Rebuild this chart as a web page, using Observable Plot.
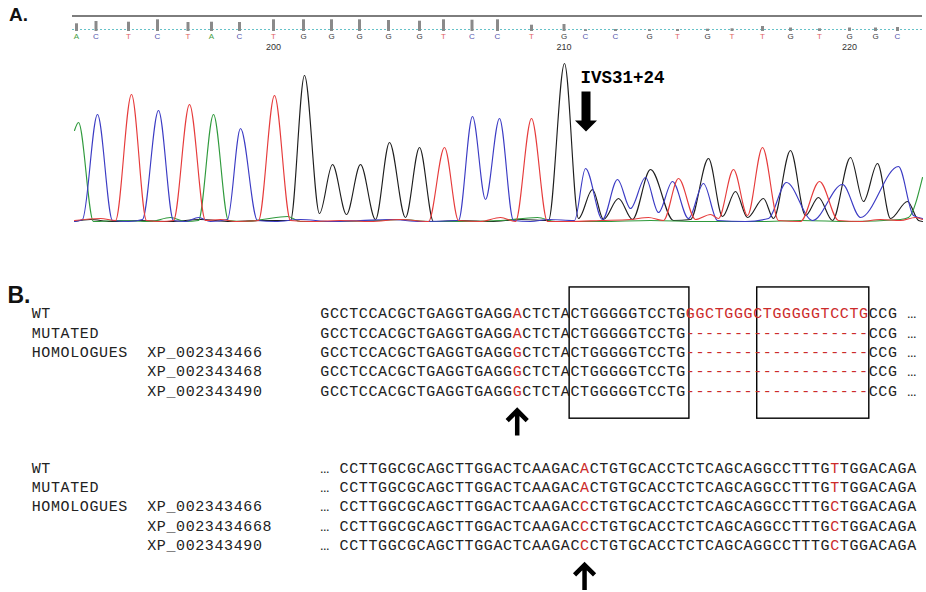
<!DOCTYPE html>
<html>
<head>
<meta charset="utf-8">
<script src="https://cdn.jsdelivr.net/npm/d3@7"></script>
<script src="https://cdn.jsdelivr.net/npm/@observablehq/plot@0.6"></script>
<style>
  html, body { margin: 0; padding: 0; background: #fff; overflow: hidden; }
  #fig { position: relative; width: 926px; height: 592px; background: #fff; overflow: hidden; }
  .panel-label { position: absolute; font-family: "Liberation Sans", Arial, sans-serif; font-weight: bold; color: #111; white-space: nowrap; }
</style>
</head>
<body>
<div id="fig"></div>
<script>
// ================= Panel A data =================
// base calls of the trace (letter, scan position, call quality)
const baseLetters = ["A","C","T","C","T","A","C","T","G","G","G","G","G","T","C","C","T","G","C","C","G","T","G","T","T","G","T","G","G","C"];
const baseScan    = [4,23.5,56,85,115.5,139,167,201,231,259,287,316,347,371,399.5,425,459,491.5,513,543,577,605,635,659.5,690,718,747,777,803,825];
const baseQuality = [7.7,10,9.3,11.7,9,9.3,9,11.7,11.7,11.7,11.7,11,10.3,11.7,11.3,11.7,6.3,7,1.7,2,1.7,2,2.3,2.7,5,3.5,2.7,3.5,3.5,4];
const positionLabels = ["200","210","220"];
const positionBaseIndex = [7,17,27];

// chromatogram traces: [scan, intensity] at troughs and apices
const traceA = [[2,92],[6,100],[21,1],[48,2],[78,1],[98,5],[113,1],[126,2],[141,108],[156,2],[173,1],[190,3],[215,6],[228,1],[258,1],[308,2],[328,3],[358,1],[388,1],[428,2],[465,5],[483,1],[528,1],[578,2],[628,1],[688,1],[728,2],[778,1],[828,3],[836,5],[850,45]];
const traceC = [[2,1],[10,3],[25,108],[40,2],[56,1],[70,3],[86,112],[101,2],[113,1],[126,5],[138,1],[155,3],[168,94],[185,2],[203,1],[228,3],[258,1],[288,2],[318,3],[348,1],[386,2],[400,106],[413,23],[427,104],[441,2],[458,1],[476,3],[502,2],[513,54],[530,3],[545,43],[558,14],[573,45],[586,10],[600,41],[616,4],[631,39],[645,2],[673,1],[696,4],[714,40],[740,2],[770,38],[788,5],[826,56],[841,7],[850,4]];
const traceG = [[2,1],[18,3],[38,1],[68,2],[98,1],[128,3],[158,1],[188,2],[218,2],[232,147],[247,9],[260,58],[274,8],[288,58],[303,3],[317,80],[333,5],[347,75],[361,1],[388,2],[418,1],[448,3],[476,2],[492,159],[506,4],[520,33],[531,3],[546,24],[560,3],[578,53],[601,2],[618,3],[636,64],[650,6],[663,31],[675,5],[691,24],[701,4],[718,72],[733,7],[746,25],[760,2],[778,65],[791,21],[805,59],[818,4],[835,21],[846,2],[850,1]];
const traceT = [[2,2],[28,4],[43,2],[59,128],[74,2],[88,1],[101,2],[117,118],[133,2],[148,3],[163,1],[186,2],[202,127],[218,2],[238,1],[268,2],[298,1],[328,3],[356,1],[372,75],[386,2],[408,1],[428,5],[443,1],[459,104],[475,1],[498,1],[528,2],[558,3],[576,5],[591,2],[606,44],[623,3],[638,8],[646,4],[661,53],[675,7],[690,75],[706,2],[728,1],[747,41],[766,2],[788,1],[808,3],[828,2],[843,5],[850,3]];

const mutationScan = [513.5];
const mutationLabel = ["IVS31+24"];

// ================= Panel B data =================
const rowLabels  = ["WT","MUTATED","HOMOLOGUES","",""];
const accession1 = ["","","XP_002343466","XP_002343468","XP_002343490"];
const accession2 = ["","","XP_002343466","XP_0023434668","XP_002343490"];
const seqBlock1 = [
  "GCCTCCACGCTGAGGTGAGGACTCTACTGGGGGTCCTGGGCTGGGCTGGGGGTCCTGCCG",
  "GCCTCCACGCTGAGGTGAGGACTCTACTGGGGGTCCTG-------------------CCG",
  "GCCTCCACGCTGAGGTGAGGGCTCTACTGGGGGTCCTG-------------------CCG",
  "GCCTCCACGCTGAGGTGAGGGCTCTACTGGGGGTCCTG-------------------CCG",
  "GCCTCCACGCTGAGGTGAGGGCTCTACTGGGGGTCCTG-------------------CCG"
];
const seqBlock2 = [
  "CCTTGGCGCAGCTTGGACTCAAGACACTGTGCACCTCTCAGCAGGCCTTTGTTGGACAGA",
  "CCTTGGCGCAGCTTGGACTCAAGACACTGTGCACCTCTCAGCAGGCCTTTGTTGGACAGA",
  "CCTTGGCGCAGCTTGGACTCAAGACCCTGTGCACCTCTCAGCAGGCCTTTGCTGGACAGA",
  "CCTTGGCGCAGCTTGGACTCAAGACCCTGTGCACCTCTCAGCAGGCCTTTGCTGGACAGA",
  "CCTTGGCGCAGCTTGGACTCAAGACCCTGTGCACCTCTCAGCAGGCCTTTGCTGGACAGA"
];
const redCols1 = [20,38,39,40,41,42,43,44,45,46,47,48,49,50,51,52,53,54,55,56];
const redCols2 = [25,51];
const boxColsFrom = [25.95, 45.45];
const boxColsTo   = [38.4, 57.1];
const boxRowTop = -1.35, boxRowBottom = 5.45;
const arrowCols = [20.5, 27.5];
const arrowRows = [5.65, 13.65];

// ================= Drawing =================
const fig = document.getElementById("fig");
function place(el, top) {
  el.style.position = "absolute";
  el.style.left = "0px";
  el.style.top = top + "px";
  fig.appendChild(el);
  return el;
}

const sans = "Liberation Sans, Arial, sans-serif";
const mono = "Liberation Mono, Courier New, monospace";

// custom arrow symbols
const blockArrowDown = {draw(ctx) {
  ctx.moveTo(-4.5, -20); ctx.lineTo(4.5, -20); ctx.lineTo(4.5, 9); ctx.lineTo(11, 9);
  ctx.lineTo(0, 20); ctx.lineTo(-11, 9); ctx.lineTo(-4.5, 9); ctx.closePath();
}};
const openArrowUp = {draw(ctx) {
  ctx.moveTo(0, 13); ctx.lineTo(0, -12);
  ctx.moveTo(-10, -2); ctx.lineTo(0, -12); ctx.lineTo(10, -2);
}};

// --- header (base calls) ---
const baseData = baseLetters.map((b, i) => ({base: b, scan: baseScan[i], q: baseQuality[i]}));
const posData = positionLabels.map((t, i) => ({text: t, scan: baseScan[positionBaseIndex[i]]}));

const header = Plot.plot({
  width: 926, height: 56,
  marginLeft: 72, marginRight: 4, marginTop: 15.5, marginBottom: 25,
  x: {domain: [0, 850], axis: null},
  y: {domain: [0, 15.5], axis: null},
  color: {domain: ["A","C","G","T"], range: ["#46a046","#5656ac","#3a3a3a","#e06262"]},
  style: {background: "transparent", overflow: "visible"},
  marks: [
    Plot.ruleY([2], {stroke: "#66c2c8", strokeWidth: 1, strokeDasharray: "2,2"}),
    Plot.ruleY([15.5], {stroke: "#7d7d7d", strokeWidth: 2}),
    Plot.ruleX(baseData, {x: "scan", y1: 0, y2: "q", stroke: "#8a8a8a", strokeWidth: 3}),
    Plot.text(baseData, {x: "scan", text: "base", fill: "base", frameAnchor: "bottom", dy: 7, fontSize: 8, fontFamily: sans}),
    Plot.text(posData, {x: "scan", text: "text", frameAnchor: "bottom", dy: 18.5, fontSize: 9, fill: "#333", fontFamily: sans})
  ]
});
place(header, 0);

// --- chromatogram ---
const traceRows = [["G", traceG], ["A", traceA], ["C", traceC], ["T", traceT]]
  .flatMap(([b, pts]) => pts.map(([s, v]) => ({base: b, scan: s, v})));
const mutationData = mutationScan.map((s, i) => ({scan: s, label: mutationLabel[i]}));

const chrom = Plot.plot({
  width: 926, height: 184,
  marginLeft: 72, marginRight: 4, marginTop: 6, marginBottom: 18,
  x: {domain: [0, 850], axis: null},
  y: {domain: [0, 160], axis: null},
  color: {domain: ["A","C","G","T"], range: ["#2f9a3c","#3b3bc4","#1e1e1e","#e63b3b"]},
  style: {background: "transparent", overflow: "visible"},
  marks: [
    Plot.line(traceRows, {x: "scan", y: "v", z: "base", stroke: "base", curve: "monotone-x", strokeWidth: 1.15}),
    Plot.dot(mutationData, {x: "scan", frameAnchor: "top", dy: 49, symbol: blockArrowDown, fill: "#000", stroke: "none"}),
    Plot.text(mutationData, {x: "scan", text: "label", frameAnchor: "top", dy: 8, dx: -5.5, textAnchor: "start",
      fontFamily: mono, fontWeight: "bold", fontSize: 17.5, fill: "#000"})
  ]
});
place(chrom, 56);

// --- panel B alignment ---
const blocks = [
  {seqs: seqBlock1, ids: accession1, red: redCols1, row0: 0, seqCol: 0, ellipsisCol: 61},
  {seqs: seqBlock2, ids: accession2, red: redCols2, row0: 8, seqCol: 2, ellipsisCol: 0}
];
const chars = [];
for (const blk of blocks) {
  blk.seqs.forEach((seq, r) => {
    const row = blk.row0 + r;
    [...rowLabels[r]].forEach((ch, i) => chars.push({x: -30 + i + 0.5, row, ch, red: false}));
    [...blk.ids[r]].forEach((ch, i) => chars.push({x: -18 + i + 0.5, row, ch, red: false}));
    [...seq].forEach((ch, i) => chars.push({x: blk.seqCol + i + 0.5, row, ch, red: blk.red.includes(i)}));
    chars.push({x: blk.ellipsisCol + 0.5, row, ch: "\u2026", red: false});
  });
}
const boxes = boxColsFrom.map((c, i) => ({from: c, to: boxColsTo[i], top: boxRowTop, bottom: boxRowBottom}));
const arrows = arrowCols.map((c, i) => ({col: c, row: arrowRows[i]}));

const panelB = Plot.plot({
  width: 926, height: 330,
  margin: 0,
  x: {domain: [0, 62], range: [319.5, 915.94], axis: null},
  y: {domain: [0, 12], range: [51, 282.6], axis: null},
  style: {background: "transparent", overflow: "visible"},
  marks: [
    Plot.rect(boxes, {x1: "from", x2: "to", y1: "top", y2: "bottom", fill: "none", stroke: "#000", strokeWidth: 1.4}),
    Plot.text(chars.filter(d => !d.red), {x: "x", y: "row", text: "ch", fill: "#222", fontFamily: mono, fontSize: 15}),
    Plot.text(chars.filter(d => d.red), {x: "x", y: "row", text: "ch", fill: "#cc2b2b", fontFamily: mono, fontSize: 15}),
    Plot.dot(arrows, {x: "col", y: "row", symbol: openArrowUp, fill: "none", stroke: "#000", strokeWidth: 4.5})
  ]
});
place(panelB, 262);

// panel letters
const la = document.createElement("div");
la.className = "panel-label"; la.textContent = "A.";
la.style.cssText += "left:9px;top:5px;font-size:19px;line-height:19px;";
fig.appendChild(la);
const lb = document.createElement("div");
lb.className = "panel-label"; lb.textContent = "B.";
lb.style.cssText += "left:7.5px;top:283.5px;font-size:23px;line-height:23px;";
fig.appendChild(lb);
</script>
</body>
</html>
